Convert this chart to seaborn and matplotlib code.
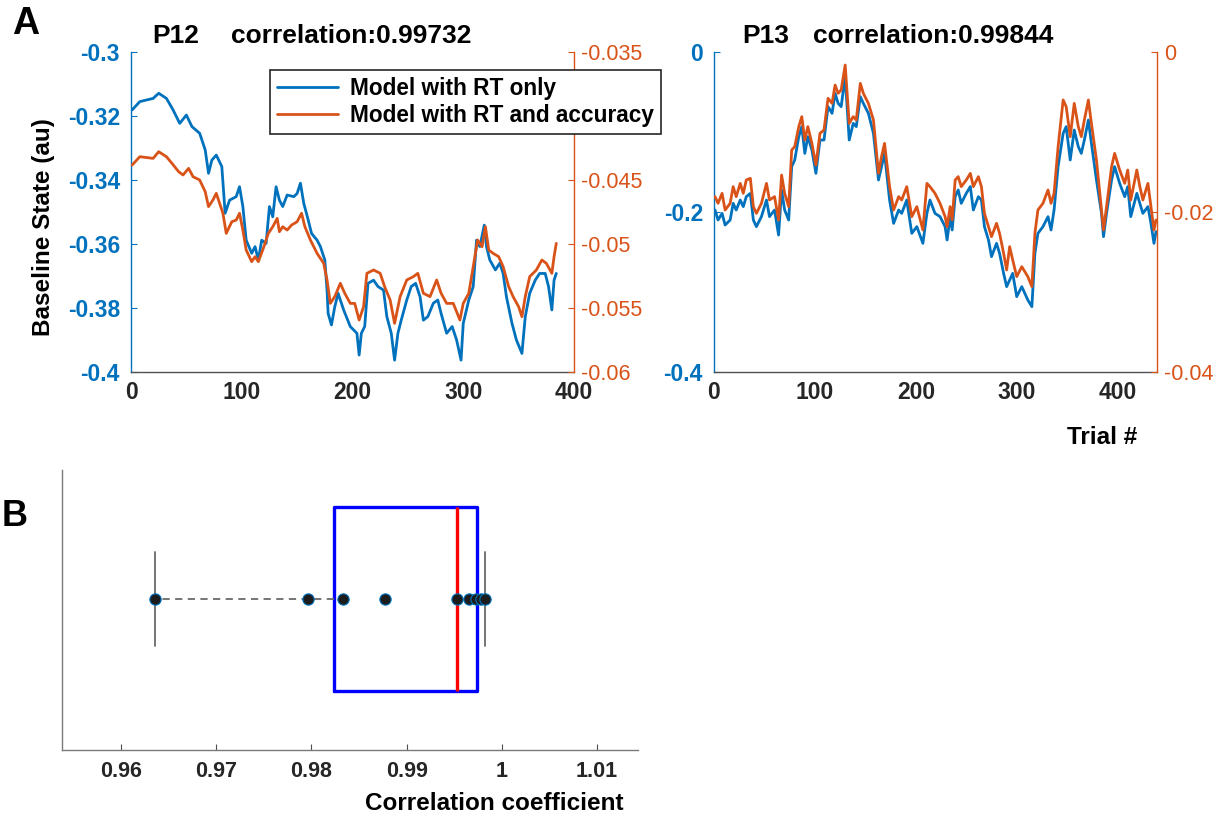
import numpy as np
import matplotlib
matplotlib.use("Agg")
import matplotlib.pyplot as plt
import seaborn as sns
from matplotlib.lines import Line2D

# ---------------- data ----------------
# Panel A, P12 -- model with RT only (left axis)
p12_rt_trial = [1, 8, 20, 25, 32, 38, 44, 50, 55, 62, 67, 70, 73, 77, 82, 85, 89, 95, 98, 101,
                104, 109, 112, 115, 118, 122, 125, 128, 131, 134, 137, 141, 147, 150, 153, 156, 160, 163, 168, 171,
                175, 177, 178, 181, 184, 187, 192, 198,
                204, 206, 208, 211, 214, 219, 223, 228, 231, 235, 238, 241, 244, 249, 253, 257, 261, 264, 268, 273,
                277, 280, 285, 290, 294, 298, 300, 305, 309, 312, 315, 319, 321, 324, 329, 333, 336, 339, 344, 348,
                353, 356, 360, 365, 369, 374, 377, 380, 382, 384]
p12_rt_value = [-0.3181, -0.3155, -0.3145, -0.3129, -0.3145, -0.3181, -0.3223, -0.3197, -0.3233, -0.3254,
                -0.3306, -0.3379, -0.3338, -0.3322, -0.3358, -0.3504, -0.3463, -0.3452, -0.3421, -0.3483,
                -0.3588, -0.3629, -0.3608, -0.3650, -0.3588, -0.3598, -0.3483, -0.3515, -0.3421, -0.3463,
                -0.3483, -0.3447, -0.3452, -0.3442, -0.3410, -0.3473, -0.3525, -0.3567, -0.3588, -0.3608,
                -0.3650, -0.3744, -0.3817, -0.3853, -0.3796, -0.3754, -0.3806, -0.3858,
                -0.3879, -0.3947, -0.3879, -0.3858, -0.3723, -0.3713, -0.3733, -0.3744, -0.3827, -0.3879,
                -0.3963, -0.3879, -0.3838, -0.3775, -0.3733, -0.3723, -0.3765, -0.3838, -0.3827, -0.3785,
                -0.3775, -0.3817, -0.3879, -0.3858, -0.3900, -0.3963, -0.3848, -0.3775, -0.3733, -0.3588,
                -0.3608, -0.3541, -0.3608, -0.3650, -0.3681, -0.3660, -0.3692, -0.3765, -0.3848, -0.3900,
                -0.3942, -0.3827, -0.3754, -0.3713, -0.3692, -0.3692, -0.3733, -0.3806, -0.3713, -0.3692]
# Panel A, P12 -- model with RT and accuracy (right axis)
p12_acc_trial = [1, 8, 20, 25, 32, 37, 43, 47, 52, 56, 62, 67, 70, 74, 77, 80, 83, 86, 91, 95,
                 98, 101, 104, 109, 112, 115, 120, 124, 128, 132, 134, 137, 141, 145, 150, 154, 157, 162, 168, 174,
                 177, 180, 184, 189, 193, 198,
                 202, 206, 210, 213, 219, 225, 229, 234, 238, 243, 249, 255, 259, 264, 270, 276, 280, 285, 291, 297,
                 300, 305, 309, 313, 317, 320, 323, 327, 332, 336, 341, 345, 350, 353, 356, 360, 366, 371, 375, 380,
                 382, 384]
p12_acc_value = [-0.04383, -0.04318, -0.04331, -0.04279, -0.04318, -0.04370, -0.04435, -0.04461, -0.04409, -0.04474,
                 -0.04500, -0.04591, -0.04708, -0.04656, -0.04604, -0.04682, -0.04760, -0.04917, -0.04826, -0.04813,
                 -0.04760, -0.04891, -0.05047, -0.05138, -0.05099, -0.05138, -0.05021, -0.04917, -0.04865, -0.04800,
                 -0.04904, -0.04865, -0.04891, -0.04852, -0.04826, -0.04760, -0.04865, -0.04969, -0.05073, -0.05151,
                 -0.05281, -0.05464, -0.05411, -0.05307, -0.05385, -0.05464,
                 -0.05464, -0.05594, -0.05490, -0.05229, -0.05203, -0.05229, -0.05333, -0.05438, -0.05620, -0.05411,
                 -0.05281, -0.05255, -0.05229, -0.05385, -0.05411, -0.05281, -0.05385, -0.05464, -0.05464, -0.05594,
                 -0.05464, -0.05385, -0.05177, -0.04969, -0.05021, -0.04865, -0.05047, -0.05073, -0.05099, -0.05177,
                 -0.05333, -0.05411, -0.05490, -0.05568, -0.05411, -0.05255, -0.05203, -0.05125, -0.05151, -0.05229,
                 -0.05099, -0.04995]

# Panel A, P13 (both series sampled at the same trials)
p13_trial = [1, 4, 8, 11, 16, 19, 22, 26, 29, 32, 36, 39, 42, 47, 52, 55, 60, 64, 67, 70,
             74, 77, 80, 84, 87, 90, 93, 97, 101, 105, 109, 113, 117, 120, 123, 126, 130, 134, 138, 141,
             145, 148, 153, 158, 163, 166, 169, 174, 178, 183, 186, 191, 196, 201, 207, 211, 214, 219,
             224, 229, 231, 234, 236, 239, 242, 245, 250, 254, 257, 262, 265, 268, 272, 275, 280, 283,
             287, 290, 293, 296, 300, 305, 311, 315, 318, 321, 326, 331, 334, 337, 341, 346, 349, 353,
             357, 361, 364, 367, 371, 374, 379, 384, 386, 389, 394, 397, 402, 407, 410, 413, 419, 422,
             425, 430, 433, 436, 438]
p13_rt_value = [-0.1975, -0.2100, -0.2017, -0.2163, -0.2100, -0.1892, -0.1975, -0.1850, -0.1933, -0.1808,
                -0.1767, -0.2100, -0.2183, -0.2058, -0.1850, -0.2058, -0.1975, -0.2288, -0.1725, -0.1975,
                -0.2100, -0.1433, -0.1350, -0.1058, -0.0933, -0.1267, -0.1058, -0.1225, -0.1517, -0.1100,
                -0.1100, -0.0683, -0.0767, -0.0517, -0.0642, -0.0683, -0.0308, -0.1100, -0.0892, -0.0933,
                -0.0558, -0.0642, -0.0767, -0.1017, -0.1600, -0.1433, -0.1267, -0.1850, -0.2142, -0.1975,
                -0.2017, -0.1850, -0.2267, -0.2183, -0.2392, -0.2017, -0.1850, -0.2017,
                -0.2058, -0.2183, -0.2350, -0.2058, -0.2225, -0.1808, -0.1725, -0.1892, -0.1767, -0.1683,
                -0.1975, -0.1808, -0.1850, -0.2183, -0.2350, -0.2558, -0.2392, -0.2517, -0.2767, -0.2933,
                -0.2850, -0.2767, -0.3058, -0.2933, -0.3100, -0.3183, -0.2517, -0.2267, -0.2183, -0.2058,
                -0.2225, -0.1975, -0.1433, -0.1017, -0.0933, -0.1350, -0.0975, -0.1183, -0.1267, -0.1100,
                -0.0850, -0.1142, -0.1600, -0.2017, -0.2308, -0.2017, -0.1600, -0.1433, -0.1642, -0.1808,
                -0.1683, -0.2058, -0.1767, -0.1892, -0.2017, -0.1933, -0.2142, -0.2392, -0.2246]
p13_acc_value = [-0.01808, -0.01892, -0.01767, -0.01975, -0.01892, -0.01683, -0.01808, -0.01642, -0.01767, -0.01600,
                 -0.01579, -0.01933, -0.02017, -0.01892, -0.01642, -0.01850, -0.01808, -0.02100, -0.01538, -0.01767,
                 -0.01933, -0.01225, -0.01183, -0.00933, -0.00808, -0.01100, -0.00933, -0.01142, -0.01413, -0.01017,
                 -0.00975, -0.00579, -0.00642, -0.00413, -0.00517, -0.00475, -0.00163, -0.00892, -0.00808, -0.00850,
                 -0.00392, -0.00517, -0.00642, -0.00850, -0.01517, -0.01308, -0.01142, -0.01683, -0.01975, -0.01808,
                 -0.01850, -0.01683, -0.02058, -0.01933, -0.02225, -0.01642, -0.01683, -0.01767,
                 -0.01892, -0.02058, -0.02183, -0.01933, -0.02100, -0.01600, -0.01558, -0.01683, -0.01600, -0.01517,
                 -0.01683, -0.01558, -0.01683, -0.02017, -0.02183, -0.02308, -0.02142, -0.02267, -0.02517, -0.02725,
                 -0.02433, -0.02600, -0.02808, -0.02683, -0.02808, -0.02933, -0.02267, -0.01975, -0.01892, -0.01725,
                 -0.01892, -0.01767, -0.01183, -0.00600, -0.00683, -0.01058, -0.00642, -0.00933, -0.01058, -0.00850,
                 -0.00600, -0.00892, -0.01350, -0.01975, -0.02225, -0.01933, -0.01433, -0.01267, -0.01475, -0.01642,
                 -0.01475, -0.01850, -0.01475, -0.01683, -0.01850, -0.01642, -0.01933, -0.02225, -0.02100]

# Panel B -- correlation coefficients of all participants
corr_values = [0.9636, 0.9796, 0.9833, 0.9877, 0.9953, 0.9966, 0.99732, 0.9978, 0.9982]

# text / ticks
series_labels = ["Model with RT only", "Model with RT and accuracy"]
panel_titles = [("P12", "correlation:0.99732"), ("P13", "correlation:0.99844")]
p12_left_ticks = [-0.4, -0.38, -0.36, -0.34, -0.32, -0.3]
p12_left_labels = ["-0.4", "-0.38", "-0.36", "-0.34", "-0.32", "-0.3"]
p12_right_ticks = [-0.06, -0.055, -0.05, -0.045, -0.04, -0.035]
# the -0.04 label is hidden behind the legend in the reference
p12_right_labels = ["-0.06", "-0.055", "-0.05", "-0.045", "", "-0.035"]
p13_left_ticks = [-0.4, -0.2, 0.0]
p13_left_labels = ["-0.4", "-0.2", "0"]
p13_right_ticks = [-0.04, -0.02, 0.0]
p13_right_labels = ["-0.04", "-0.02", "0"]
trial_ticks = [0, 100, 200, 300, 400]
corr_ticks = [0.96, 0.97, 0.98, 0.99, 1.0, 1.01]
corr_tick_labels = ["0.96", "0.97", "0.98", "0.99", "1", "1.01"]

# ---------------- style ----------------
sns.set_style("white")
plt.rcParams["font.family"] = ["Liberation Sans", "DejaVu Sans"]

BLUE = "#0072BD"
ORANGE = "#D95319"
DARK = "#262626"
AXGRAY = "#505050"
LW = 2.0

W, H = 1224, 818
fig = plt.figure(figsize=(W / 100, H / 100), dpi=100)


def rect(x0, y0, x1, y1):
    return [x0 / W, 1 - y1 / H, (x1 - x0) / W, (y1 - y0) / H]


def pair_panel(pos, t_rt, v_rt, t_acc, v_acc, xlim, ylimL, ylimR,
               lt, ll, rt, rl):
    ax = fig.add_axes(pos)
    sns.lineplot(x=t_rt, y=v_rt, ax=ax, color=BLUE, lw=LW, estimator=None,
                 sort=False, legend=False)
    ax2 = ax.twinx()
    sns.lineplot(x=t_acc, y=v_acc, ax=ax2, color=ORANGE, lw=LW, estimator=None,
                 sort=False, legend=False)
    ax.set_xlim(*xlim)
    ax.set_ylim(*ylimL)
    ax2.set_ylim(*ylimR)
    ax.set_xlabel("")
    ax.set_ylabel("")
    ax2.set_ylabel("")
    ax.set_xticks(trial_ticks, [str(t) for t in trial_ticks],
                  fontsize=16.5, fontweight="bold", color=DARK)
    ax.set_yticks(lt, ll, fontsize=16.5, fontweight="bold", color=BLUE)
    ax2.set_yticks(rt, rl, fontsize=15.5, color=ORANGE)
    ax.tick_params(axis="x", direction="in", length=4, width=0.8,
                   color=AXGRAY, pad=6.5)
    ax.tick_params(axis="y", direction="in", length=4, width=0.8,
                   color=BLUE, pad=8)
    ax2.tick_params(axis="y", direction="in", length=4, width=0.8,
                    color=ORANGE, pad=5)
    for s in ["top", "right"]:
        ax.spines[s].set_visible(False)
    for s in ["top", "left", "bottom"]:
        ax2.spines[s].set_visible(False)
    ax.spines["left"].set_color(BLUE)
    ax.spines["left"].set_linewidth(1.0)
    ax.spines["bottom"].set_color(AXGRAY)
    ax.spines["bottom"].set_linewidth(1.0)
    ax2.spines["right"].set_visible(True)
    ax2.spines["right"].set_color(ORANGE)
    ax2.spines["right"].set_linewidth(1.0)
    ax.grid(False)
    ax2.grid(False)
    return ax, ax2


axA1, axA1r = pair_panel(rect(131, 52, 574, 372), p12_rt_trial, p12_rt_value,
                         p12_acc_trial, p12_acc_value, (0, 400), (-0.4, -0.3),
                         (-0.06, -0.035), p12_left_ticks, p12_left_labels,
                         p12_right_ticks, p12_right_labels)
axA2, axA2r = pair_panel(rect(714, 52, 1157, 372), p13_trial, p13_rt_value,
                         p13_trial, p13_acc_value, (0, 439), (-0.4, 0.0),
                         (-0.04, 0.0), p13_left_ticks, p13_left_labels,
                         p13_right_ticks, p13_right_labels)

# legend (drawn above the right-axis of P12 like the reference)
handles = [Line2D([], [], color=BLUE, lw=LW), Line2D([], [], color=ORANGE, lw=LW)]
leg = fig.legend(handles, series_labels, loc="upper left",
                 bbox_to_anchor=(270 / W, 1 - 70 / H), borderaxespad=0,
                 prop={"weight": "bold", "size": 16.3}, frameon=True, fancybox=False,
                 framealpha=1, edgecolor=DARK, handlelength=2.7, handletextpad=0.55,
                 labelspacing=0.2, borderpad=0.3)
leg.get_frame().set_linewidth(1.2)
for t in leg.get_texts():
    t.set_color("black")

# titles and labels of panel A
for (name, corr), xn, xc in zip(panel_titles, [152, 742], [231, 813]):
    fig.text(xn / W, 1 - 43 / H, name, fontsize=19, fontweight="bold",
             ha="left", va="baseline", color="black")
    fig.text(xc / W, 1 - 43 / H, corr, fontsize=19, fontweight="bold",
             ha="left", va="baseline", color="black")
fig.text(44 / W, 1 - 227 / H, "Baseline State (au)", rotation=90, fontsize=17.5,
         fontweight="bold", ha="center", va="center", color="black")
fig.text(1102 / W, 1 - 437 / H, "Trial #", fontsize=17.5, fontweight="bold",
         ha="center", va="center", color="black")
fig.text(12 / W, 1 - 24 / H, "A", fontsize=27, fontweight="bold",
         ha="left", va="center", color="black")
fig.text(2 / W, 1 - 517 / H, "B", fontsize=26, fontweight="bold",
         ha="left", va="center", color="black")

# ---------------- panel B ----------------
axB = fig.add_axes(rect(62, 470, 638, 750))
cv = np.array(corr_values)
q1, med, q3 = np.percentile(cv, [25, 50, 75], method="hazen")  # MATLAB quartiles
iqr = q3 - q1
whislo = cv[cv >= q1 - 1.5 * iqr].min()
whishi = cv[cv <= q3 + 1.5 * iqr].max()
stats = [dict(med=med, q1=q1, q3=q3, whislo=whislo, whishi=whishi, fliers=[])]
axB.bxp(stats, positions=[1], widths=0.5, orientation="horizontal",
        showfliers=False, manage_ticks=False, capwidths=0.255,
        boxprops=dict(color="#0000FF", lw=2.4),
        medianprops=dict(color="#FF0000", lw=2.4),
        whiskerprops=dict(color="#6a6a6a", lw=1.3, ls=(0, (4, 3))),
        capprops=dict(color="#6a6a6a", lw=1.3))
sns.scatterplot(x=cv, y=np.ones_like(cv), ax=axB, color="#1c1c1c",
                edgecolor=BLUE, linewidth=0.8, s=66, zorder=5, legend=False)
axB.set_xlim(0.9538, 1.0143)
axB.set_ylim(0.5897, 1.3505)
axB.set_yticks([])
axB.set_xticks(corr_ticks, corr_tick_labels, fontsize=15.5, fontweight="bold",
               color=DARK)
axB.tick_params(axis="x", direction="in", length=4, width=0.8, color=AXGRAY,
                pad=8, bottom=True)
axB.set_xlabel("")
axB.set_ylabel("")
for s in ["top", "right"]:
    axB.spines[s].set_visible(False)
for s in ["left", "bottom"]:
    axB.spines[s].set_color("#7a7a7a")
    axB.spines[s].set_linewidth(1.0)
axB.grid(False)
fig.text(494 / W, 1 - 804 / H, "Correlation coefficient", fontsize=17.5,
         fontweight="bold", ha="center", va="center", color="black")

fig.savefig("out.png", dpi=100)
